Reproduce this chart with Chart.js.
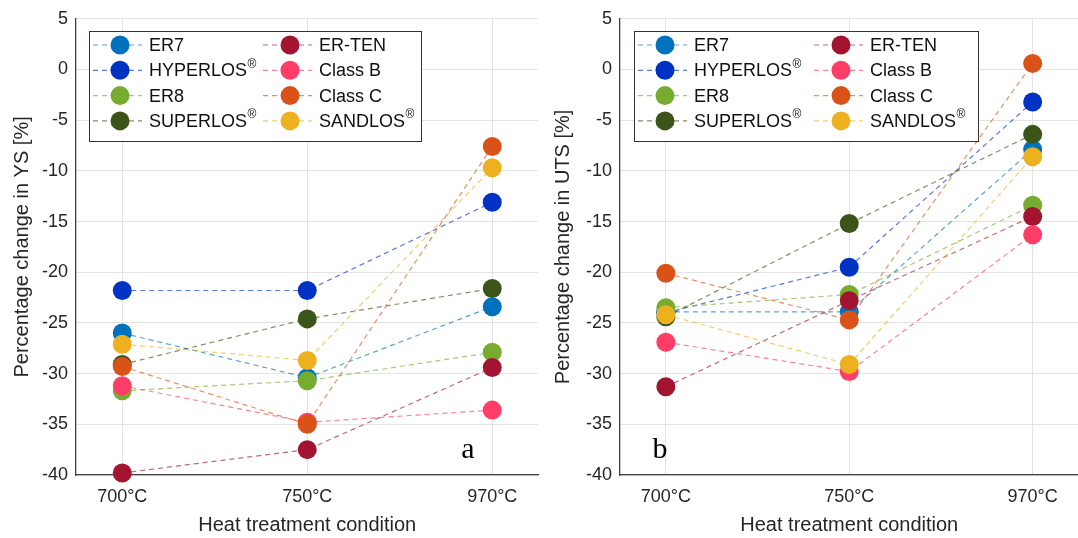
<!DOCTYPE html>
<html>
<head>
<meta charset="utf-8">
<script src="https://cdn.jsdelivr.net/npm/chart.js@4.4.1/dist/chart.umd.min.js"></script>
<style>
  body { margin: 0; background: #fff; overflow: hidden; width: 1078px; height: 538px; position: relative; }
  canvas { position: absolute; top: 0; }
  #ys { left: 0; }
  #uts { left: 540px; }
</style>
</head>
<body>
<canvas id="ys" width="548" height="538"></canvas>
<canvas id="uts" width="548" height="538"></canvas>
<script>
// categories and series
var conditions = ['700°C', '750°C', '970°C']
var seriesNames = ['ER7', 'HYPERLOS®', 'ER8', 'SUPERLOS®', 'ER-TEN', 'Class B', 'Class C', 'SANDLOS®']
var seriesColors = ['#0072BD', '#0032C4', '#77AC30', '#3B5419', '#A2142F', '#FF3D66', '#D95319', '#EDB120']
var yTicks = [5, 0, -5, -10, -15, -20, -25, -30, -35, -40]

// percentage change in YS
var ysER7 = [-26.0, -30.4, -23.4]
var ysHYPERLOS = [-21.8, -21.8, -13.1]
var ysER8 = [-31.7, -30.7, -27.9]
var ysSUPERLOS = [-29.1, -24.6, -21.6]
var ysERTEN = [-39.8, -37.5, -29.4]
var ysClassB = [-31.2, -34.8, -33.6]
var ysClassC = [-29.3, -35.0, -7.6]
var ysSANDLOS = [-27.1, -28.7, -9.7]

// percentage change in UTS
var utsER7 = [-23.9, -23.9, -7.9]
var utsHYPERLOS = [-24.0, -19.5, -3.2]
var utsER8 = [-23.5, -22.2, -13.4]
var utsSUPERLOS = [-24.4, -15.2, -6.4]
var utsERTEN = [-31.3, -22.8, -14.5]
var utsClassB = [-26.9, -29.8, -16.3]
var utsClassC = [-20.1, -24.7, 0.6]
var utsSANDLOS = [-24.2, -29.1, -8.6]

var ysSeries = [ysER7, ysHYPERLOS, ysER8, ysSUPERLOS, ysERTEN, ysClassB, ysClassC, ysSANDLOS]
var utsSeries = [utsER7, utsHYPERLOS, utsER8, utsSUPERLOS, utsERTEN, utsClassB, utsClassC, utsSANDLOS]

var FONT = "'Liberation Sans', Arial, sans-serif"
var TXT = '#262626'

function fade(hex, a) {
    var n = parseInt(hex.slice(1), 16)
    return 'rgba(' + (n >> 16) + ',' + ((n >> 8) & 255) + ',' + (n & 255) + ',' + a + ')'
}

// legend box inside the plot area, two columns, plus the panel letter
var legendBox = {
    id: 'legendBox',
    afterDraw(chart, args, o) {
        var ctx = chart.ctx, a = chart.chartArea
        var x0 = Math.round(a.left + o.dx), y0 = Math.round(a.top + 12)
        ctx.save()
        ctx.fillStyle = '#fff'
        ctx.fillRect(x0, y0, o.w, 110)
        ctx.strokeStyle = '#333'
        ctx.lineWidth = 1
        ctx.strokeRect(x0 + 0.5, y0 + 0.5, o.w, 110)
        chart.data.datasets.forEach(function (ds, i) {
            var col = Math.floor(i / 4), row = i % 4
            var mx = x0 + 31 + col * o.colGap, my = y0 + 14 + row * 25.3
            ctx.setLineDash([5, 4])
            ctx.strokeStyle = ds.borderColor
            ctx.lineWidth = 1.2
            ctx.beginPath()
            ctx.moveTo(mx - 27, my)
            ctx.lineTo(mx + 22, my)
            ctx.stroke()
            ctx.setLineDash([])
            ctx.fillStyle = ds.pointBackgroundColor
            ctx.beginPath()
            ctx.arc(mx, my, 9.5, 0, Math.PI * 2)
            ctx.fill()
            var parts = ds.label.split('®')
            ctx.fillStyle = '#111'
            ctx.textBaseline = 'middle'
            ctx.textAlign = 'left'
            ctx.font = '18px ' + FONT
            var tx = mx + 29
            ctx.fillText(parts[0], tx, my + 1)
            if (parts.length > 1) {
                var w = ctx.measureText(parts[0]).width
                ctx.font = '12px ' + FONT
                ctx.fillText('®', tx + w + 0.5, my - 6)
            }
        })
        ctx.font = '30px "Liberation Serif", "Times New Roman", serif'
        ctx.fillStyle = '#000'
        ctx.textAlign = 'center'
        ctx.textBaseline = 'middle'
        ctx.fillText(o.tag, a.left + o.tagX, 450)
        ctx.restore()
    }
}

function makeChart(id, yTitle, series, yw, padRight, legendOpts) {
    var datasets = series.map(function (vals, i) {
        return {
            label: seriesNames[i],
            data: vals.map(function (v, k) { return { x: k + 1, y: v } }),
            borderColor: fade(seriesColors[i], 0.65),
            borderWidth: 1.2,
            borderDash: [5, 4],
            pointBackgroundColor: seriesColors[i],
            pointBorderColor: seriesColors[i],
            pointBorderWidth: 0,
            pointRadius: 9.5,
            pointHoverRadius: 9.5,
            fill: false,
            tension: 0,
            order: 8 - i
        }
    })
    return new Chart(document.getElementById(id), {
        type: 'line',
        data: { datasets: datasets },
        plugins: [legendBox],
        options: {
            responsive: false,
            animation: false,
            clip: false,
            layout: { padding: { top: 18, right: padRight, left: 0, bottom: 0 } },
            plugins: {
                legend: { display: false },
                tooltip: { enabled: false },
                legendBox: legendOpts
            },
            scales: {
                x: {
                    type: 'linear',
                    min: 0.75,
                    max: 3.25,
                    afterBuildTicks: function (s) { s.ticks = [1, 2, 3].map(function (v) { return { value: v } }) },
                    afterFit: function (s) { s.height = 63 },
                    ticks: {
                        padding: 11,
                        color: TXT,
                        font: { family: FONT, size: 18 },
                        callback: function (v) { return conditions[v - 1] }
                    },
                    grid: { color: '#e3e3e3', drawTicks: false },
                    border: { color: '#404040', width: 1.3 },
                    title: {
                        display: true,
                        text: 'Heat treatment condition',
                        color: TXT,
                        font: { family: FONT, size: 20 },
                        padding: { top: 0, bottom: 1 }
                    }
                },
                y: {
                    min: -40,
                    max: 5,
                    afterBuildTicks: function (s) { s.ticks = yTicks.map(function (v) { return { value: v } }) },
                    afterFit: function (s) { s.width = yw },
                    ticks: {
                        padding: 8,
                        color: TXT,
                        font: { family: FONT, size: 18 }
                    },
                    grid: { color: '#e3e3e3', drawTicks: false },
                    border: { color: '#404040', width: 1.3 },
                    title: {
                        display: true,
                        text: yTitle,
                        color: TXT,
                        font: { family: FONT, size: 20 },
                        padding: { top: yw === 76 ? 10 : 11, bottom: 0 }
                    }
                }
            }
        }
    })
}

makeChart('ys', 'Percentage change in YS [%]', ysSeries, 76, 8, { dx: 13, w: 332, colGap: 170, tag: 'a', tagX: 392 })
makeChart('uts', 'Percentage change in UTS [%]', utsSeries, 80, 4, { dx: 14, w: 344, colGap: 176, tag: 'b', tagX: 40 })
</script>
</body>
</html>
